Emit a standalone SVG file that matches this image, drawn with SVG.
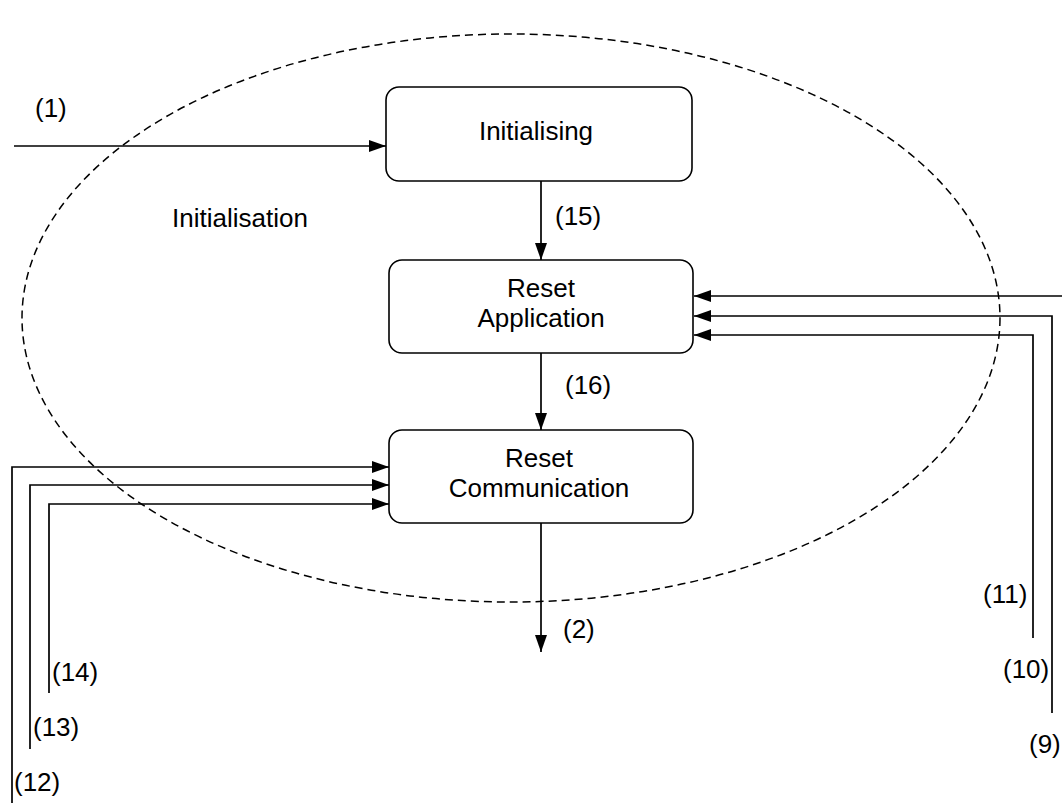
<svg xmlns="http://www.w3.org/2000/svg" width="1062" height="803" viewBox="0 0 1062 803">
<style>
text{font-family:"Liberation Sans",Arial,sans-serif;font-size:26px;fill:#000}
.box{fill:#fff;stroke:#000;stroke-width:1.6}
.ln{fill:none;stroke:#000;stroke-width:1.7}
.mid{text-anchor:middle}
</style>
<defs>
<marker id="ah" viewBox="0 0 17 12" refX="17" refY="6" markerWidth="17" markerHeight="12" markerUnits="userSpaceOnUse" orient="auto">
<path d="M0,0 L17,6 L0,12 Z" fill="#000"/>
</marker>
</defs>
<rect width="1062" height="803" fill="#fff"/>
<g id="region-initialisation">
<ellipse cx="511" cy="318" rx="489" ry="284" fill="none" stroke="#000" stroke-width="1.5" stroke-dasharray="8,5"/>
<text x="172" y="227">Initialisation</text>
</g>
<g id="connectors">
<path class="ln" d="M14,146 H386" marker-end="url(#ah)"/>
<path class="ln" d="M541,181 V260" marker-end="url(#ah)"/>
<path class="ln" d="M541,353 V430" marker-end="url(#ah)"/>
<path class="ln" d="M541,523 V652" marker-end="url(#ah)"/>
<path class="ln" d="M1062,296 H694" marker-end="url(#ah)"/>
<path class="ln" d="M1052,713 V316 H694" marker-end="url(#ah)"/>
<path class="ln" d="M1033,638 V335 H694" marker-end="url(#ah)"/>
<path class="ln" d="M12,803 V467 H389" marker-end="url(#ah)"/>
<path class="ln" d="M30,749 V485 H389" marker-end="url(#ah)"/>
<path class="ln" d="M49,693 V504 H389" marker-end="url(#ah)"/>
<text x="35" y="117">(1)</text>
<text x="555" y="225">(15)</text>
<text x="565" y="394">(16)</text>
<text x="563" y="638">(2)</text>
<text x="983" y="603">(11)</text>
<text x="1003" y="678">(10)</text>
<text x="1029" y="753">(9)</text>
<text x="52" y="681">(14)</text>
<text x="33" y="736">(13)</text>
<text x="14" y="791">(12)</text>
</g>
<g id="node-initialising">
<rect class="box" x="386" y="87" width="306" height="94" rx="13"/>
<text class="mid" x="536" y="140">Initialising</text>
</g>
<g id="node-reset-application">
<rect class="box" x="389" y="260" width="304" height="93" rx="13"/>
<text class="mid" x="541" y="297">Reset</text>
<text class="mid" x="541" y="327">Application</text>
</g>
<g id="node-reset-communication">
<rect class="box" x="389" y="430" width="304" height="93" rx="13"/>
<text class="mid" x="539" y="467">Reset</text>
<text class="mid" x="539" y="497">Communication</text>
</g>
</svg>
